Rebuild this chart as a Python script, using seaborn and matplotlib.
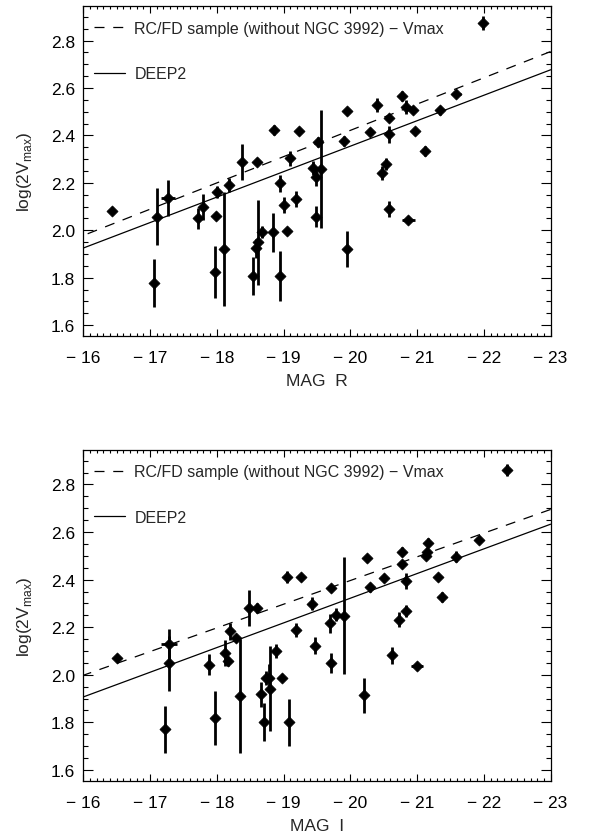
import numpy as np
import pandas as pd
import matplotlib
matplotlib.use("Agg")
import matplotlib.pyplot as plt
import seaborn as sns
from matplotlib.ticker import MultipleLocator, FixedLocator, FixedFormatter

sns.set_style("ticks")
plt.rcParams['font.family'] = ['Liberation Sans', 'DejaVu Sans']
plt.rcParams['mathtext.fontset'] = 'custom'
plt.rcParams['mathtext.rm'] = 'Liberation Sans'

# panel R
mag_r = [-16.43, -17.06, -17.11, -17.27, -17.72, -17.79, -17.97, -17.99, -18.01, -18.11,
         -18.18, -18.37, -18.60, -18.54, -18.58, -18.61, -18.67, -18.84, -18.85, -18.95,
         -18.95, -19.00, -19.05, -19.10, -19.19, -19.23, -19.44, -19.48, -19.49, -19.52,
         -19.56, -19.91, -19.95, -19.95, -20.30, -20.40, -20.47, -20.53, -20.58, -20.58,
         -20.58, -20.78, -20.84, -20.87, -20.94, -20.97, -21.12, -21.34, -21.59, -21.99]
logv_r = [2.082, 1.778, 2.058, 2.135, 2.051, 2.097, 1.823, 2.062, 2.160, 1.922,
          2.191, 2.289, 2.289, 1.806, 1.925, 1.949, 1.991, 1.991, 2.422, 2.198,
          1.806, 2.107, 1.995, 2.303, 2.132, 2.418, 2.264, 2.226, 2.058, 2.373,
          2.258, 2.376, 2.502, 1.922, 2.415, 2.527, 2.243, 2.279, 2.474, 2.405,
          2.090, 2.566, 2.520, 2.044, 2.509, 2.418, 2.335, 2.506, 2.577, 2.873]
err_r = [0.015, 0.10, 0.12, 0.075, 0.045, 0.055, 0.11, 0.015, 0.025, 0.24,
         0.03, 0.077, 0.015, 0.08, 0.04, 0.18, 0.025, 0.083, 0.02, 0.035,
         0.105, 0.035, 0.015, 0.03, 0.035, 0.015, 0.03, 0.04, 0.045, 0.02,
         0.25, 0.02, 0.015, 0.076, 0.015, 0.03, 0.03, 0.025, 0.015, 0.035,
         0.035, 0.02, 0.03, 0.015, 0.015, 0.015, 0.02, 0.02, 0.015, 0.03]
xerr_r = [0, 0, 0, 0.1, 0, 0, 0, 0, 0, 0,
          0, 0, 0, 0, 0, 0, 0, 0, 0, 0,
          0, 0, 0, 0, 0, 0, 0, 0, 0, 0,
          0, 0, 0, 0, 0, 0, 0, 0, 0, 0,
          0, 0, 0, 0.1, 0, 0, 0, 0, 0.07, 0]

# panel I
mag_i = [-16.50, -17.22, -17.29, -17.29, -17.88, -17.97, -18.12, -18.16, -18.19, -18.28,
         -18.35, -18.48, -18.60, -18.66, -18.70, -18.74, -18.78, -18.80, -18.89, -18.97,
         -19.08, -19.05, -19.19, -19.26, -19.43, -19.47, -19.69, -19.71, -19.71, -19.78,
         -19.90, -20.20, -20.25, -20.30, -20.51, -20.62, -20.73, -20.77, -20.78, -20.83,
         -20.84, -21.00, -21.14, -21.15, -21.16, -21.31, -21.38, -21.58, -21.92, -22.34]
logv_i = [2.072, 1.771, 2.128, 2.049, 2.043, 1.817, 2.091, 2.056, 2.183, 2.154,
          1.911, 2.281, 2.281, 1.918, 1.800, 1.987, 1.987, 1.942, 2.100, 1.987,
          1.800, 2.412, 2.189, 2.409, 2.298, 2.123, 2.217, 2.363, 2.051, 2.253,
          2.249, 1.914, 2.490, 2.367, 2.407, 2.082, 2.232, 2.465, 2.518, 2.395,
          2.267, 2.036, 2.500, 2.517, 2.556, 2.409, 2.328, 2.497, 2.567, 2.859]
err_i = [0.015, 0.098, 0.066, 0.115, 0.045, 0.114, 0.056, 0.02, 0.035, 0.015,
         0.24, 0.077, 0.02, 0.052, 0.08, 0.03, 0.06, 0.18, 0.03, 0.015,
         0.10, 0.025, 0.03, 0.015, 0.027, 0.037, 0.04, 0.015, 0.042, 0.028,
         0.247, 0.073, 0.015, 0.02, 0.015, 0.035, 0.03, 0.015, 0.02, 0.033,
         0.025, 0.015, 0.015, 0.015, 0.02, 0.015, 0.02, 0.023, 0.015, 0.025]
xerr_i = [0, 0, 0.12, 0, 0, 0, 0, 0, 0, 0,
          0, 0, 0, 0, 0, 0, 0, 0, 0, 0,
          0, 0, 0, 0, 0, 0, 0, 0, 0, 0,
          0, 0, 0, 0, 0, 0, 0, 0, 0, 0,
          0, 0.09, 0, 0, 0, 0, 0, 0, 0, 0]

# fit lines (end points at -16 and -23)
line_x = [-16, -23]
rcfd_r = [1.978, 2.754]
deep2_r = [1.925, 2.677]
rcfd_i = [1.998, 2.695]
deep2_i = [1.907, 2.633]

xticks = [-16, -17, -18, -19, -20, -21, -22, -23]
xticklabels = ['\u2212 16', '\u2212 17', '\u2212 18', '\u2212 19', '\u2212 20', '\u2212 21', '\u2212 22', '\u2212 23']
yticks = [1.6, 1.8, 2.0, 2.2, 2.4, 2.6, 2.8]
yticklabels = ['1.6', '1.8', '2.0', '2.2', '2.4', '2.6', '2.8']

fig = plt.figure(figsize=(5.93, 8.37), dpi=100)
ax1 = fig.add_axes([0.1405, 0.5977, 0.788, 0.3936])
ax2 = fig.add_axes([0.1405, 0.0661, 0.788, 0.3951])


def panel(ax, mag, logv, err, xerr, rcfd, deep2, xlabel):
    lines = pd.DataFrame({'mag': line_x * 2, 'logv': rcfd + deep2,
                          'fit': ['RC/FD sample (without NGC 3992) \u2212 Vmax'] * 2 + ['DEEP2'] * 2})
    sns.lineplot(data=lines, x='mag', y='logv', style='fit', color='black', lw=0.9,
                 dashes={'RC/FD sample (without NGC 3992) \u2212 Vmax': (8, 7), 'DEEP2': ''},
                 ax=ax, legend=True)
    ax.errorbar(mag, logv, yerr=err, xerr=xerr, fmt='none', ecolor='black',
                elinewidth=2.0, capsize=0, zorder=3)
    pts = pd.DataFrame({'mag': mag, 'logv': logv})
    sns.scatterplot(data=pts, x='mag', y='logv', marker='D', s=32, color='black',
                    edgecolor='black', linewidth=0.5, ax=ax, zorder=4)
    ax.set_xlim(-16, -23)
    ax.set_ylim(1.555, 2.945)
    ax.xaxis.set_major_locator(FixedLocator(xticks))
    ax.xaxis.set_major_formatter(FixedFormatter(xticklabels))
    ax.yaxis.set_major_locator(FixedLocator(yticks))
    ax.yaxis.set_major_formatter(FixedFormatter(yticklabels))
    ax.xaxis.set_minor_locator(MultipleLocator(0.1))
    ax.yaxis.set_minor_locator(MultipleLocator(0.05))
    ax.tick_params(axis='both', which='both', direction='in', top=True, right=True,
                   width=0.8, labelsize=12.5, colors='black')
    ax.tick_params(axis='x', which='major', length=5, pad=10)
    ax.tick_params(axis='x', which='minor', length=2.5)
    ax.tick_params(axis='y', which='major', length=7, pad=6)
    ax.tick_params(axis='y', which='minor', length=3.5)
    for sp in ax.spines.values():
        sp.set_linewidth(0.9)
        sp.set_color('black')
    ax.set_xlabel(xlabel, fontsize=12.5, labelpad=6)
    ax.set_ylabel(r'log(2V$_{\rm max}$)', fontsize=12.5, labelpad=12)
    leg = ax.legend(loc='upper left', frameon=False, fontsize=11.5, handlelength=1.9,
                    handletextpad=0.6, labelspacing=1.9, borderaxespad=0.3,
                    bbox_to_anchor=(0.0, 0.99))
    for h in leg.get_lines():
        h.set_linewidth(0.9)


panel(ax1, mag_r, logv_r, err_r, xerr_r, rcfd_r, deep2_r, 'MAG  R')
panel(ax2, mag_i, logv_i, err_i, xerr_i, rcfd_i, deep2_i, 'MAG  I')

fig.savefig('out.png', dpi=100, facecolor='white')
